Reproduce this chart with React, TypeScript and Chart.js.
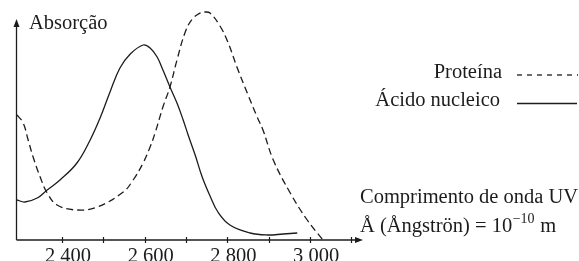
import React, { useEffect, useRef } from "react";
import Chart from "chart.js/auto";

const proteinWavelength = [2291, 2306, 2318, 2330, 2347, 2364, 2388, 2436, 2485, 2548, 2572, 2596, 2613, 2625, 2644, 2661, 2678, 2698, 2715, 2734, 2746, 2758, 2782, 2801, 2823, 2848, 2872, 2886, 2911, 2952, 2993, 3031];
const proteinAbsorption = [125, 117, 100, 83, 63, 47, 35, 30, 33, 48, 60, 77, 93, 107, 133, 153, 180, 208, 221, 227, 228, 227, 214, 198, 173, 147, 123, 110, 80, 47, 20, 0];

const nucleicWavelength = [2291, 2310, 2340, 2364, 2395, 2436, 2468, 2492, 2516, 2540, 2565, 2596, 2613, 2630, 2644, 2661, 2678, 2693, 2705, 2722, 2739, 2758, 2777, 2806, 2855, 2896, 2935, 2969];
const nucleicAbsorption = [40, 38, 42, 50, 60, 77, 100, 122, 148, 172, 186, 195, 192, 183, 170, 153, 137, 120, 105, 85, 63, 44, 28, 15, 7, 5, 6, 7];

const tickValues = [2400, 2500, 2600, 2700, 2800, 2900, 3000, 3100];
const labelValues = [2400, 2600, 2800, 3000];
const labelTexts = ["2 400", "2 600", "2 800", "3 000"];

const yTitle = "Absorção";
const legendProtein = "Proteína";
const legendNucleic = "Ácido nucleico";
const xTitle1 = "Comprimento de onda UV";
const xTitle2a = "Å (Ångströn) = 10";
const xTitle2sup = "−10";
const xTitle2b = " m";

const INK = "#1c1c1c";
const FONT = '"Liberation Serif", "Times New Roman", serif';

export default function App() {
  const ref = useRef<HTMLCanvasElement | null>(null);

  useEffect(() => {
    const canvas = ref.current;
    if (!canvas) return;

    const decor = {
      id: "decor",
      afterDraw(chart: any) {
        const ctx = chart.ctx as CanvasRenderingContext2D;
        const xs = chart.scales.x;
        const ys = chart.scales.y;
        const left = xs.left;
        const right = xs.right;
        const bottom = ys.bottom;
        ctx.save();
        ctx.strokeStyle = INK;
        ctx.fillStyle = INK;
        ctx.lineWidth = 1.3;
        ctx.setLineDash([]);

        // y axis
        const axX = left - 0.5;
        ctx.beginPath();
        ctx.moveTo(axX, bottom);
        ctx.lineTo(axX, 25);
        ctx.stroke();
        ctx.beginPath();
        ctx.moveTo(axX, 19);
        ctx.lineTo(axX - 3, 27);
        ctx.lineTo(axX + 3, 27);
        ctx.closePath();
        ctx.fill();

        // x axis
        ctx.beginPath();
        ctx.moveTo(axX, bottom);
        ctx.lineTo(right - 4, bottom);
        ctx.stroke();
        ctx.beginPath();
        ctx.moveTo(right, bottom);
        ctx.lineTo(right - 8, bottom - 3);
        ctx.lineTo(right - 8, bottom + 3);
        ctx.closePath();
        ctx.fill();

        // ticks
        ctx.lineWidth = 1.2;
        tickValues.forEach((v) => {
          const px = Math.round(xs.getPixelForValue(v)) + 0.5;
          ctx.beginPath();
          ctx.moveTo(px, bottom - 3);
          ctx.lineTo(px, bottom + 3);
          ctx.stroke();
        });

        // tick labels
        ctx.font = `20.5px ${FONT}`;
        ctx.textAlign = "center";
        ctx.textBaseline = "alphabetic";
        labelValues.forEach((v, i) => {
          const px = xs.getPixelForValue(v) + 6;
          ctx.fillText(labelTexts[i], px, 262);
        });

        // y title
        ctx.textAlign = "left";
        ctx.fillText(yTitle, 29, 28.5);

        // legend
        ctx.textAlign = "right";
        ctx.fillText(legendProtein, 502, 77.5);
        ctx.fillText(legendNucleic, 500, 105.5);
        ctx.lineWidth = 1.3;
        ctx.setLineDash([5, 5]);
        ctx.beginPath();
        ctx.moveTo(517, 75);
        ctx.lineTo(578, 75);
        ctx.stroke();
        ctx.setLineDash([]);
        ctx.beginPath();
        ctx.moveTo(517, 103.5);
        ctx.lineTo(577, 103.5);
        ctx.stroke();

        // x title
        ctx.textAlign = "left";
        ctx.fillText(xTitle1, 360, 203);
        ctx.fillText(xTitle2a, 360, 231.5);
        const w = ctx.measureText(xTitle2a).width;
        ctx.font = `14px ${FONT}`;
        ctx.fillText(xTitle2sup, 360 + w + 0.5, 223);
        const w2 = ctx.measureText(xTitle2sup).width;
        ctx.font = `20.5px ${FONT}`;
        ctx.fillText(xTitle2b, 360 + w + w2 + 1, 231.5);

        ctx.restore();
      },
    };

    const chart = new Chart(canvas, {
      type: "line",
      data: {
        datasets: [
          {
            label: legendProtein,
            data: proteinWavelength.map((x, i) => ({ x, y: proteinAbsorption[i] })),
            borderColor: INK,
            borderWidth: 1.3,
            borderDash: [7, 4],
            pointRadius: 0,
            tension: 0.4,
            fill: false,
          },
          {
            label: legendNucleic,
            data: nucleicWavelength.map((x, i) => ({ x, y: nucleicAbsorption[i] })),
            borderColor: INK,
            borderWidth: 1.3,
            pointRadius: 0,
            tension: 0.4,
            fill: false,
          },
        ],
      },
      options: {
        animation: false,
        responsive: false,
        maintainAspectRatio: false,
        devicePixelRatio: 1,
        layout: { padding: { left: 17, right: 216, top: 10, bottom: 21 } },
        plugins: { legend: { display: false }, tooltip: { enabled: false } },
        scales: {
          x: { type: "linear", display: false, min: 2291, max: 3128 },
          y: { type: "linear", display: false, min: 0, max: 230 },
        },
      },
      plugins: [decor],
    });

    return () => chart.destroy();
  }, []);

  return (
    <div style={{ position: "absolute", left: 0, top: 0, width: 579, height: 261, background: "#fff" }}>
      <canvas ref={ref} width={579} height={261} style={{ width: 579, height: 261, display: "block" }} />
    </div>
  );
}
